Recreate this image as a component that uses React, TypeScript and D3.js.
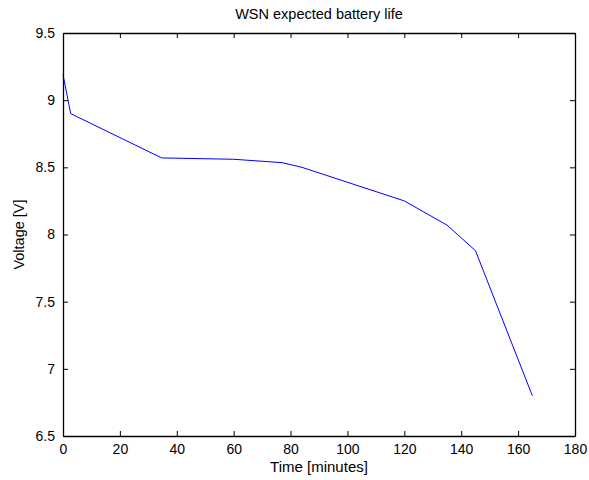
import React, { useEffect, useRef } from 'react';
import * as d3 from 'd3';

const timeMin = [0, 2.7, 34.7, 60, 77, 84, 120, 135, 145, 165];
const voltage = [9.19, 8.9, 8.57, 8.56, 8.535, 8.5, 8.25, 8.07, 7.88, 6.8];
const xTicks = [0, 20, 40, 60, 80, 100, 120, 140, 160, 180];
const yTicks = [6.5, 7, 7.5, 8, 8.5, 9, 9.5];

export default function App() {
    const ref = useRef<SVGSVGElement>(null);
    const width = 589;
    const height = 480;
    const margin = { top: 33, right: 14, bottom: 44, left: 63 };

    useEffect(() => {
        const svg = d3.select(ref.current);
        svg.selectAll('*').remove();
        const font = 'Liberation Sans, Arial, sans-serif';

        const x = d3.scaleLinear().domain([0, 180]).range([margin.left, width - margin.right]);
        const y = d3.scaleLinear().domain([6.5, 9.5]).range([height - margin.bottom, margin.top]);

        svg.append('rect')
            .attr('width', width)
            .attr('height', height)
            .attr('fill', '#fff');

        // data line, drawn under the frame
        const line = d3.line<number>()
            .x((d, i) => x(timeMin[i]))
            .y(d => y(d));
        svg.append('path')
            .datum(voltage)
            .attr('d', line)
            .attr('fill', 'none')
            .attr('stroke', '#0000ff')
            .attr('stroke-width', 1);

        // axes with inward ticks, mirrored on top and right
        const tk = 5;
        const bottom = svg.append('g').attr('transform', 'translate(0,' + y(6.5) + ')')
            .call(d3.axisBottom(x).tickValues(xTicks).tickSizeInner(-tk).tickSizeOuter(0).tickPadding(8));
        const top = svg.append('g').attr('transform', 'translate(0,' + y(9.5) + ')')
            .call(d3.axisTop(x).tickValues(xTicks).tickSizeInner(-tk).tickSizeOuter(0).tickFormat(() => ''));
        const left = svg.append('g').attr('transform', 'translate(' + x(0) + ',0)')
            .call(d3.axisLeft(y).tickValues(yTicks).tickSizeInner(-tk).tickSizeOuter(0).tickPadding(8).tickFormat(d3.format('')));
        const right = svg.append('g').attr('transform', 'translate(' + x(180) + ',0)')
            .call(d3.axisRight(y).tickValues(yTicks).tickSizeInner(-tk).tickSizeOuter(0).tickFormat(() => ''));

        [bottom, top, left, right].forEach(g => {
            g.select('.domain').attr('stroke', '#000').attr('stroke-width', 1.3);
            g.selectAll('.tick line').attr('stroke', '#000');
            g.selectAll('text')
                .attr('font-family', font)
                .attr('font-size', 14)
                .attr('fill', '#000');
        });

        svg.append('text')
            .attr('x', (x(0) + x(180)) / 2)
            .attr('y', 19)
            .attr('text-anchor', 'middle')
            .attr('font-family', font)
            .attr('font-size', 14.5)
            .text('WSN expected battery life');

        svg.append('text')
            .attr('x', (x(0) + x(180)) / 2)
            .attr('y', 472)
            .attr('text-anchor', 'middle')
            .attr('font-family', font)
            .attr('font-size', 15)
            .text('Time [minutes]');

        svg.append('text')
            .attr('transform', 'translate(24,' + (y(6.5) + y(9.5)) / 2 + ') rotate(-90)')
            .attr('text-anchor', 'middle')
            .attr('font-family', font)
            .attr('font-size', 14.5)
            .text('Voltage [V]');
    }, []);

    return (
        <svg ref={ref} width={width} height={height} style={{ position: 'absolute', left: 0, top: 0 }}></svg>
    );
}
